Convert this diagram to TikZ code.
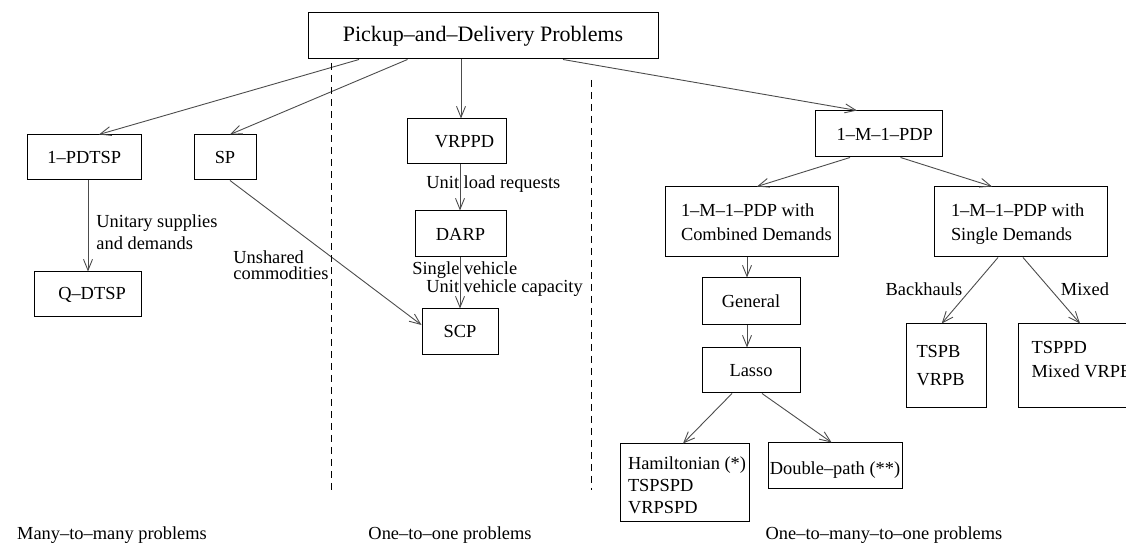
\documentclass[tikz,border=0pt]{standalone}
\usepackage{fontspec}
\setmainfont{Liberation Serif}
\usetikzlibrary{arrows.meta}
\newcommand{\lefttext}[2]{\makebox[#1][l]{\begin{tabular}{@{}l@{}}#2\end{tabular}}}
\begin{document}
\begin{tikzpicture}[x=0.5pt,y=-0.5pt,
  every node/.style={font=\fontsize{9.2}{11}\selectfont, text=black},
  box/.style={draw=black, line width=0.5pt, inner sep=0pt, align=center},
  arr/.style={draw=black!70, line width=0.45pt, -{Straight Barb[length=5.5pt,width=4.5pt]}},
  lbl/.style={inner sep=0pt, anchor=west, align=left},
  sepline/.style={draw=black, line width=0.5pt, dash pattern=on 3.5pt off 2.5pt}]
\useasboundingbox (0,0) rectangle (1126,549);
\clip (0,0) rectangle (1126,549);

% boxes
\node[box, minimum width=175pt, minimum height=23pt, font=\fontsize{11}{13}\selectfont] (top) at (483,36) {Pickup–and–Delivery Problems};
\node[box, minimum width=57.25pt, minimum height=22.5pt] (pdtsp) at (84.25,157.5) {1–PDTSP};
\node[box, minimum width=31pt, minimum height=22.5pt] (sp) at (225,157.5) {SP};
\node[box, minimum width=49.5pt, minimum height=22.5pt] (vrppd) at (456.5,141.5) {\hspace{8pt}VRPPD};
\node[box, minimum width=45.5pt, minimum height=23pt] (darp) at (460.5,234) {DARP};
\node[box, minimum width=53.5pt, minimum height=22.5pt] (qdtsp) at (88,294.5) {\hspace{4pt}Q–DTSP};
\node[box, minimum width=38pt, minimum height=23pt] (scp) at (460,332) {SCP};
\node[box, minimum width=63.75pt, minimum height=23pt] (m1) at (878.75,134) {\hspace{6pt}1–M–1–PDP};
\node[box, minimum width=86.5pt, minimum height=35pt, font=\fontsize{9.2}{12}\selectfont] (comb) at (751.5,222)
  {\lefttext{70.5pt}{\rule{0pt}{10.4pt}1–M–1–PDP with\\Combined Demands}};
\node[box, minimum width=86.2pt, minimum height=35pt, font=\fontsize{9.2}{12}\selectfont] (single) at (1020.8,222)
  {\lefttext{69.8pt}{\rule{0pt}{10.4pt}1–M–1–PDP with\\Single Demands}};
\node[box, minimum width=49pt, minimum height=23.5pt] (general) at (751,301.5) {General};
\node[box, minimum width=49pt, minimum height=22.5pt] (lasso) at (751,370.5) {Lasso};
\node[box, minimum width=40pt, minimum height=42pt, font=\fontsize{9.2}{14}\selectfont] (tspb) at (946,366)
  {\lefttext{29.5pt}{TSPB\\VRPB}};
\node[box, minimum width=61pt, minimum height=42pt, font=\fontsize{9.2}{12}\selectfont] (tsppd) at (1079,366)
  {\lefttext{47.3pt}{TSPPD\\Mixed VRPB\rule[-8.6pt]{0pt}{1pt}}};
\node[box, minimum width=64.5pt, minimum height=39pt] (ham) at (684.5,483)
  {\lefttext{56.5pt}{\rule{0pt}{11.7pt}Hamiltonian (*)\\TSPSPD\\VRPSPD}};
\node[box, minimum width=67pt, minimum height=23pt] (dbl) at (835,466) {\rule{0pt}{10.5pt}Double–path (**)};

% connectors
\draw[arr] (top.south -| 359,0) -- (pdtsp.north -| 99,0);
\draw[arr] (top.south -| 407.5,0) -- (sp.north -| 230,0);
\draw[arr] (top.south -| 461,0) -- (vrppd.north -| 461,0);
\draw[arr] (top.south -| 563,0) -- (m1.north -| 857,0);
\draw[arr] (pdtsp.south -| 88,0) -- (qdtsp.north -| 88,0);
\draw[arr] (sp.south -| 230,0) -- (scp.west |- 0,325);
\draw[arr] (vrppd.south -| 460,0) -- (darp.north -| 460,0);
\draw[arr] (darp.south -| 460,0) -- (scp.north -| 460,0);
\draw[arr] (m1.south -| 850,0) -- (comb.north -| 757,0);
\draw[arr] (m1.south -| 900.5,0) -- (single.north -| 992,0);
\draw[arr] (comb.south -| 747,0) -- (general.north -| 747,0);
\draw[arr] (general.south -| 747,0) -- (lasso.north -| 747,0);
\draw[arr] (lasso.south -| 732,0) -- (ham.north -| 683,0);
\draw[arr] (lasso.south -| 762,0) -- (dbl.north -| 831.6,0);
\draw[arr] (single.south -| 998,0) -- (tspb.north -| 941.7,0);
\draw[arr] (single.south -| 1023,0) -- (tsppd.north -| 1080,0);

% connector labels
\node[lbl] (l1) at (96,232) {Unitary supplies\\and demands};
\node[lbl] (l2) at (233,257) {Unshared};
\node[lbl] (l3) at (233,273) {commodities};
\node[lbl] (l4) at (426,184) {Unit load requests};
\node[lbl] (l5) at (412,270) {Single vehicle};
\node[lbl] (l6) at (426,288) {Unit vehicle capacity};
\node[inner sep=0pt] (l7) at (924,289) {Backhauls};
\node[inner sep=0pt] (l8) at (1085,289) {Mixed};

% separators
\coordinate (d1a) at (331,63);
\coordinate (d1b) at (331,492);
\coordinate (d2a) at (591,80);
\coordinate (d2b) at (591,490);
\draw[sepline] (d1a) -- (d1b);
\draw[sepline] (d2a) -- (d2b);

% class labels
\node[inner sep=0pt] (c1) at (112,535) {Many–to–many problems};
\node[inner sep=0pt] (c2) at (450,535) {One–to–one problems};
\node[inner sep=0pt] (c3) at (884,535) {One–to–many–to–one problems};
\end{tikzpicture}
\end{document}
